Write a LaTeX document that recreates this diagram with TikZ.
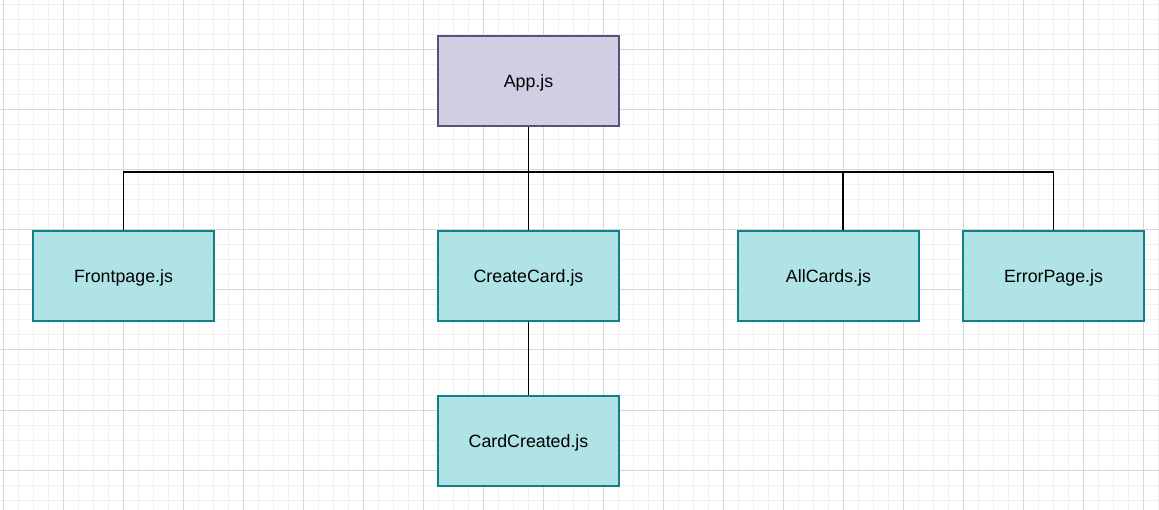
\documentclass[tikz,border=0pt]{standalone}
\usepackage{fontspec}
\setmainfont{Liberation Sans}
\definecolor{gridminor}{HTML}{F0F0F0}
\definecolor{gridmajor}{HTML}{D6D6D6}
\definecolor{appfill}{HTML}{D0CEE2}
\definecolor{appdraw}{HTML}{56517E}
\definecolor{modfill}{HTML}{B0E3E6}
\definecolor{moddraw}{HTML}{0E8088}
\tikzset{
  box/.style={rectangle, minimum width=181pt, minimum height=90pt, inner sep=0pt,
    text height=13pt, text depth=0.4pt,
    line width=1.3pt, font=\fontsize{17.8}{20}\selectfont, text=black},
  appbox/.style={box, fill=appfill, draw=appdraw},
  modbox/.style={box, fill=modfill, draw=moddraw},
  conn/.style={draw=black, line width=1.4pt}
}
\begin{document}
\begin{tikzpicture}[x=1pt,y=-1pt]
\useasboundingbox (0,0) rectangle (1159,510);
\fill[white] (0,0) rectangle (1159,510);
% minor grid
\foreach \i in {0,...,77} {\draw[gridminor, line width=1pt] ({3+15*\i},0) -- ({3+15*\i},510);}
\foreach \j in {0,...,33} {\draw[gridminor, line width=1pt] (0,{5+15*\j}) -- (1159,{5+15*\j});}
% major grid
\foreach \i in {0,...,19} {\draw[gridmajor, line width=1pt] ({3+60*\i},0) -- ({3+60*\i},510);}
\foreach \j in {0,...,7} {\draw[gridmajor, line width=1pt] (0,{50+60*\j}) -- (1159,{50+60*\j});}
% nodes
\node[appbox] (app) at (528.5,81) {App.js};
\node[modbox] (front) at (123.5,276) {Frontpage.js};
\node[modbox] (create) at (528.5,276) {CreateCard.js};
\node[modbox] (allc) at (828.5,276) {AllCards.js};
\node[modbox] (error) at (1053.5,276) {ErrorPage.js};
\node[modbox] (cardc) at (528.5,441) {CardCreated.js};
% connectors
\coordinate (bus) at (0,172);
\coordinate (ac) at (843,172);
\draw[conn] (front.north) -- (front.north |- bus) -- (error.north |- bus) -- (error.north);
\draw[conn] (app.south) -- (create.north);
\draw[conn] (ac) -- (ac |- allc.north);
\draw[conn] (create.south) -- (cardc.north);
\end{tikzpicture}
\end{document}
